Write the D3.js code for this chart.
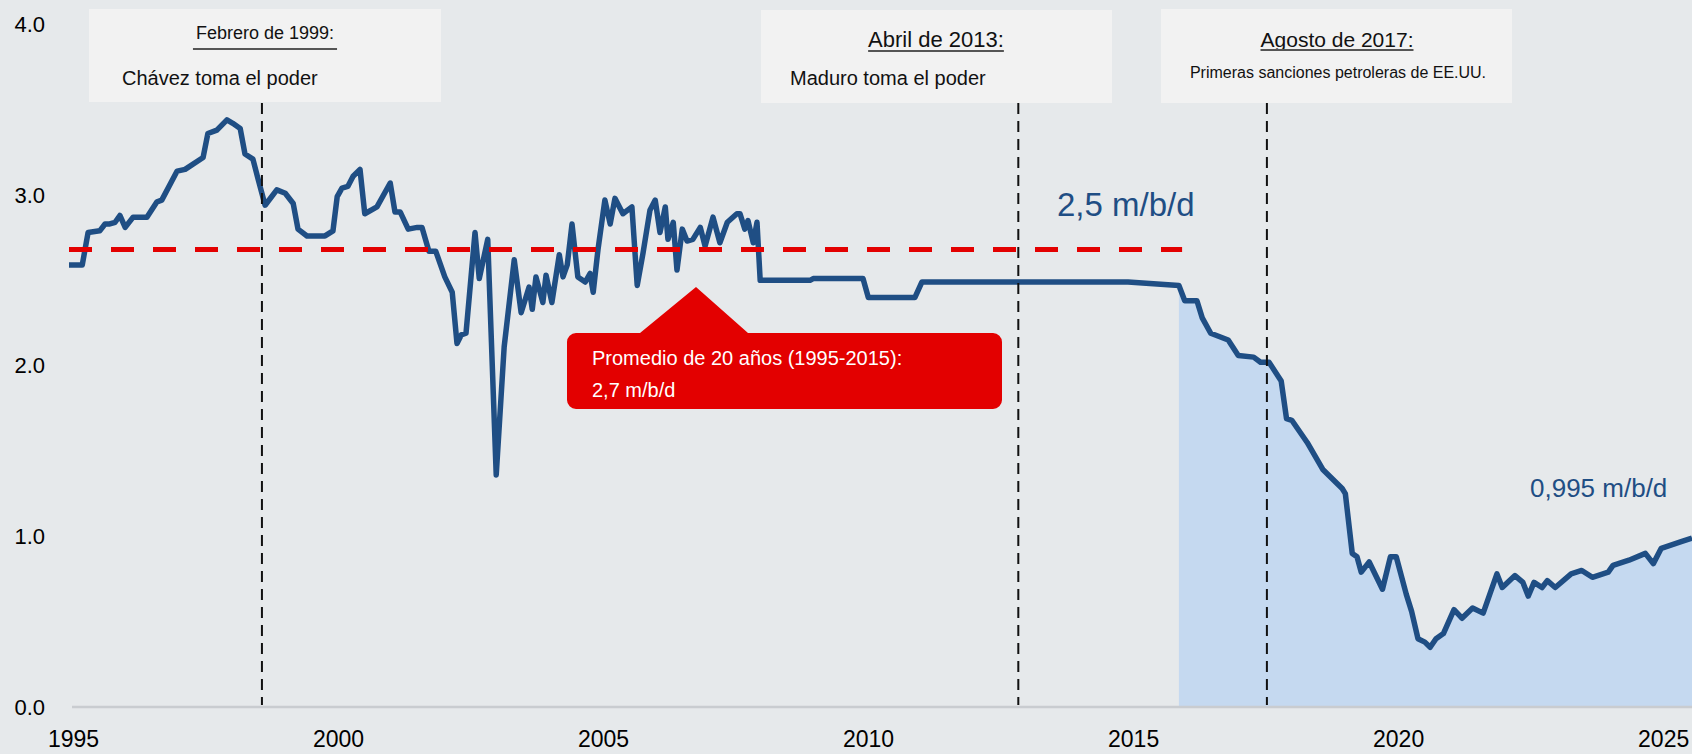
<!DOCTYPE html>
<html>
<head>
<meta charset="utf-8">
<script src="https://cdn.jsdelivr.net/npm/d3@7"></script>
<style>
  body { margin: 0; background: #e6e9eb; }
  text { font-family: "Liberation Sans", Arial, sans-serif; }
</style>
</head>
<body>
<svg id="chart"></svg>
<script>
var width = 1692;
var height = 754;

// fecha (año decimal) y producción de crudo (millones de barriles diarios)
var dates = [
  1995.00, 1995.25, 1995.36, 1995.58, 1995.68, 1995.77, 1995.87, 1995.96, 1996.06, 1996.21,
  1996.47, 1996.66, 1996.75, 1997.04, 1997.19, 1997.53, 1997.62, 1997.79, 1997.98, 1998.09,
  1998.23, 1998.32, 1998.47, 1998.57, 1998.70, 1998.75, 1998.92, 1999.08, 1999.23, 1999.32,
  1999.49, 1999.83, 1999.98, 2000.06, 2000.15, 2000.26, 2000.36, 2000.49, 2000.58, 2000.81,
  2001.06, 2001.15, 2001.25, 2001.40, 2001.57, 2001.66, 2001.79, 2001.92, 2002.09, 2002.23,
  2002.32, 2002.40, 2002.49, 2002.66, 2002.74, 2002.90, 2003.06, 2003.21, 2003.40, 2003.53,
  2003.68, 2003.74, 2003.81, 2003.94, 2004.00, 2004.11, 2004.25, 2004.32, 2004.40, 2004.49,
  2004.60, 2004.74, 2004.83, 2004.89, 2004.98, 2005.11, 2005.21, 2005.30, 2005.45, 2005.62,
  2005.72, 2005.83, 2005.96, 2006.06, 2006.15, 2006.25, 2006.30, 2006.40, 2006.47, 2006.57,
  2006.66, 2006.77, 2006.91, 2007.00, 2007.15, 2007.28, 2007.42, 2007.60, 2007.66, 2007.75,
  2007.81, 2007.91, 2007.98, 2008.04, 2008.98, 2009.04, 2009.98, 2010.08, 2010.96, 2011.09,
  2014.98, 2015.94, 2016.05, 2016.28, 2016.38, 2016.54, 2016.87, 2017.06, 2017.35, 2017.48,
  2017.64, 2017.87, 2017.97, 2018.07, 2018.36, 2018.66, 2019.02, 2019.08, 2019.21, 2019.30,
  2019.38, 2019.53, 2019.78, 2019.93, 2020.04, 2020.23, 2020.33, 2020.45, 2020.58, 2020.68,
  2020.79, 2020.93, 2021.13, 2021.28, 2021.48, 2021.68, 2021.94, 2022.04, 2022.28, 2022.43,
  2022.53, 2022.64, 2022.79, 2022.89, 2023.04, 2023.34, 2023.54, 2023.74, 2024.04, 2024.13,
  2024.43, 2024.74, 2024.89, 2025.04, 2025.43, 2025.62
];
var production = [
  2.59, 2.59, 2.78, 2.79, 2.83, 2.83, 2.84, 2.88, 2.81, 2.87,
  2.87, 2.96, 2.97, 3.14, 3.15, 3.22, 3.36, 3.38, 3.44, 3.42,
  3.39, 3.24, 3.21, 3.09, 2.94, 2.96, 3.03, 3.01, 2.95, 2.80,
  2.76, 2.76, 2.79, 2.99, 3.04, 3.05, 3.11, 3.15, 2.89, 2.93,
  3.07, 2.90, 2.90, 2.80, 2.81, 2.81, 2.67, 2.67, 2.52, 2.43,
  2.13, 2.18, 2.19, 2.78, 2.51, 2.74, 1.36, 2.11, 2.62, 2.31,
  2.46, 2.33, 2.52, 2.37, 2.53, 2.37, 2.65, 2.52, 2.59, 2.83,
  2.52, 2.49, 2.54, 2.43, 2.68, 2.97, 2.83, 2.98, 2.89, 2.93,
  2.47, 2.66, 2.91, 2.97, 2.78, 2.93, 2.74, 2.84, 2.56, 2.80,
  2.73, 2.74, 2.81, 2.70, 2.87, 2.72, 2.84, 2.89, 2.89, 2.80,
  2.85, 2.72, 2.84, 2.50, 2.50, 2.51, 2.51, 2.40, 2.40, 2.49,
  2.49, 2.47, 2.38, 2.38, 2.28, 2.19, 2.15, 2.06, 2.05, 2.02,
  2.02, 1.91, 1.69, 1.68, 1.55, 1.39, 1.28, 1.25, 0.90, 0.88,
  0.79, 0.85, 0.69, 0.88, 0.88, 0.66, 0.56, 0.40, 0.38, 0.35,
  0.40, 0.43, 0.57, 0.52, 0.58, 0.55, 0.78, 0.70, 0.77, 0.73,
  0.65, 0.73, 0.70, 0.74, 0.70, 0.78, 0.80, 0.76, 0.79, 0.83,
  0.86, 0.90, 0.84, 0.93, 0.97, 0.99
];

var yearTicks = [1995, 2000, 2005, 2010, 2015, 2020, 2025];
var valueTicks = [0, 1, 2, 3, 4];

var average = 2.68;
var averagePeriod = [1995, 2016];
var sanctionsStart = 2015.94;

var eventDates = [1998.64, 2012.91, 2017.6];
var eventTitles = ["Febrero de 1999:", "Abril de 2013:", "Agosto de 2017:"];
var eventTexts = ["Chávez toma el poder", "Maduro toma el poder", "Primeras sanciones petroleras de EE.UU."];

var data = dates.map((d, i) => ({ date: d, value: production[i] }));

var svg = d3.select('#chart')
  .attr('width', width)
  .attr('height', height)
  .attr('viewBox', [0, 0, width, height]);

svg.append('rect')
  .attr('width', width)
  .attr('height', height)
  .attr('fill', '#e6e9eb');

// scales
var x = d3.scaleLinear()
  .domain([1995, 2025.62])
  .range([69, width]);

var y = d3.scaleLinear()
  .domain([0, 4])
  .range([707, 24.3]);

// shaded area after 2016
var area = d3.area()
  .x(d => x(d.date))
  .y0(y(0))
  .y1(d => y(d.value));

svg.append('path')
  .datum(data.filter(d => d.date >= sanctionsStart))
  .attr('d', area)
  .attr('fill', '#c5d9f0');

// baseline
svg.append('line')
  .attr('x1', 72)
  .attr('x2', width)
  .attr('y1', y(0))
  .attr('y2', y(0))
  .attr('stroke', '#c9ccd0')
  .attr('stroke-width', 2.5);

// y axis
var yAxis = svg.append('g')
  .attr('transform', 'translate(45,0)')
  .call(d3.axisLeft(y).tickValues(valueTicks).tickFormat(d3.format('.1f')).tickSize(0).tickPadding(0));
yAxis.select('.domain').remove();
yAxis.selectAll('text')
  .attr('fill', '#000')
  .style('font-size', '22px')
  .style('font-family', '"Liberation Sans", Arial, sans-serif');

// x axis
var xAxis = svg.append('g')
  .attr('transform', 'translate(4,747)')
  .call(d3.axisBottom(x).tickValues(yearTicks).tickFormat(d3.format('d')).tickSize(0));
xAxis.select('.domain').remove();
xAxis.selectAll('text')
  .attr('y', 0)
  .attr('dy', 0)
  .attr('fill', '#000')
  .style('font-size', '23px')
  .style('font-family', '"Liberation Sans", Arial, sans-serif');

// production line
var line = d3.line()
  .x(d => x(d.date))
  .y(d => y(d.value));

svg.append('path')
  .datum(data)
  .attr('d', line)
  .attr('fill', 'none')
  .attr('stroke', '#1f4e84')
  .attr('stroke-width', 5.5)
  .attr('stroke-linejoin', 'round');

// 20 year average
svg.append('line')
  .attr('x1', x(averagePeriod[0]))
  .attr('x2', x(averagePeriod[1]))
  .attr('y1', y(average))
  .attr('y2', y(average))
  .attr('stroke', '#e30000')
  .attr('stroke-width', 5)
  .attr('stroke-dasharray', '23,19');

// event lines
svg.selectAll('line.event')
  .data(eventDates)
  .join('line')
    .attr('class', 'event')
    .attr('x1', d => x(d))
    .attr('x2', d => x(d))
    .attr('y1', 103)
    .attr('y2', y(0) - 2)
    .attr('stroke', '#111')
    .attr('stroke-width', 2)
    .attr('stroke-dasharray', '11,7');

// annotation boxes
var boxes = [
  { x: 89, y: 9, w: 352, h: 93, titleX: 265, titleY: 39, titleSize: 18, lineY: 49, pad: 3,
    textX: 122, textY: 85, textSize: 20, anchor: 'start' },
  { x: 761, y: 10, w: 351, h: 93, titleX: 936, titleY: 47, titleSize: 22, lineY: 51, pad: 0,
    textX: 790, textY: 85, textSize: 20, anchor: 'start' },
  { x: 1161, y: 9, w: 351, h: 94, titleX: 1337, titleY: 47, titleSize: 21, lineY: 50, pad: 0,
    textX: 1338, textY: 78, textSize: 16, anchor: 'middle' }
];

boxes.forEach(function(b, i) {
  var g = svg.append('g');
  g.append('rect')
    .attr('x', b.x).attr('y', b.y)
    .attr('width', b.w).attr('height', b.h)
    .attr('fill', '#f2f2f2');
  var t = g.append('text')
    .attr('x', b.titleX)
    .attr('y', b.titleY)
    .attr('text-anchor', 'middle')
    .style('font-size', b.titleSize + 'px')
    .attr('fill', '#111')
    .text(eventTitles[i]);
  var len = t.node().getComputedTextLength();
  g.append('line')
    .attr('x1', b.titleX - len / 2 - b.pad)
    .attr('x2', b.titleX + len / 2 + b.pad)
    .attr('y1', b.lineY)
    .attr('y2', b.lineY)
    .attr('stroke', '#555')
    .attr('stroke-width', 2);
  g.append('text')
    .attr('x', b.textX)
    .attr('y', b.textY)
    .attr('text-anchor', b.anchor)
    .style('font-size', b.textSize + 'px')
    .attr('fill', '#111')
    .text(eventTexts[i]);
});

// red callout
var cx0 = 567, cx1 = 1002, cy0 = 333, cy1 = 409, r = 9;
var callout = d3.path();
callout.moveTo(cx0 + r, cy0);
callout.lineTo(640, cy0);
callout.lineTo(696, 287);
callout.lineTo(748, cy0);
callout.lineTo(cx1 - r, cy0);
callout.arcTo(cx1, cy0, cx1, cy0 + r, r);
callout.lineTo(cx1, cy1 - r);
callout.arcTo(cx1, cy1, cx1 - r, cy1, r);
callout.lineTo(cx0 + r, cy1);
callout.arcTo(cx0, cy1, cx0, cy1 - r, r);
callout.lineTo(cx0, cy0 + r);
callout.arcTo(cx0, cy0, cx0 + r, cy0, r);
callout.closePath();

svg.append('path')
  .attr('d', callout.toString())
  .attr('fill', '#e30000');

svg.append('text')
  .attr('x', 592).attr('y', 365)
  .attr('fill', '#fff')
  .style('font-size', '20px')
  .text('Promedio de 20 años (1995-2015):');

svg.append('text')
  .attr('x', 592).attr('y', 397)
  .attr('fill', '#fff')
  .style('font-size', '20px')
  .text('2,7 m/b/d');

// value labels
svg.append('text')
  .attr('x', 1057).attr('y', 216)
  .attr('fill', '#1f4e84')
  .style('font-size', '33px')
  .text('2,5 m/b/d');

svg.append('text')
  .attr('x', 1530).attr('y', 497)
  .attr('fill', '#1f4e84')
  .style('font-size', '26px')
  .text('0,995 m/b/d');
</script>
</body>
</html>
